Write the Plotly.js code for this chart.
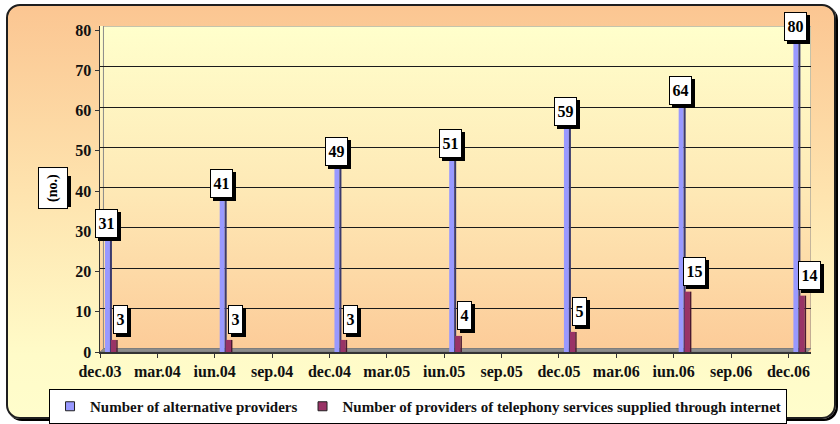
<!DOCTYPE html>
<html>
<head>
<meta charset="utf-8">
<script src="https://cdn.plot.ly/plotly-3.0.1.min.js"></script>
<style>
  html, body { margin: 0; padding: 0; background: #ffffff; }
  #wrap { position: relative; width: 840px; height: 424px; overflow: hidden; }
  #panel {
    position: absolute; left: 6px; top: 4px; width: 830px; height: 415px;
    box-sizing: border-box; border: 2px solid #1e1e1e; border-radius: 14px;
    box-shadow: 2px 2px 0 #000;
    background: linear-gradient(to bottom, #FBC692 0%, #FEE3AE 45%, #FFFBC8 85%, #FFFDCC 100%);
  }
  #wall {
    position: absolute; left: 100px; top: 26px; width: 711px; height: 326px;
    background: linear-gradient(to bottom, #FFFFCC 0%, #FEE9B6 50%, #FCCB98 100%);
  }
  #chart { position: absolute; left: 0; top: 0; width: 840px; height: 424px; }
</style>
</head>
<body>
<div id="wrap">
  <div id="panel"></div>
  <div id="wall"></div>
  <div id="chart"></div>
</div>
<script>
// Quarterly axis labels (one every three months, starting dec.03)
const tickLabels = ['dec.03', 'mar.04', 'iun.04', 'sep.04', 'dec.04', 'mar.05', 'iun.05',
                    'sep.05', 'dec.05', 'mar.06', 'iun.06', 'sep.06', 'dec.06'];
// Reporting periods (half-yearly)
const periods = ['dec.03', 'iun.04', 'dec.04', 'iun.05', 'dec.05', 'iun.06', 'dec.06'];
// Number of alternative providers
const altProviders = [31, 41, 49, 51, 59, 64, 80];
// Number of providers of telephony services supplied through internet
const voipProviders = [3, 3, 3, 4, 5, 15, 14];

const seriesNames = ['Number of alternative providers',
                     'Number of providers of telephony services supplied through internet'];

// month index counted from dec.03 (date axis with a monthly base unit)
const monthIdx = periods.map(p => tickLabels.indexOf(p) * 3);

const FONT = 'Liberation Serif, Times New Roman, serif';
const BLUE = '#9999FF', BLUE_SIDE = '#3A3A6C';
const RED = '#993366', RED_SIDE = '#4A1830';

function bar(y, color, offset, width) {
  return {
    type: 'bar', x: monthIdx, y: y, base: 0,
    offset: offset, width: width,
    marker: { color: color, line: { width: 0 } },
    showlegend: false, hoverinfo: 'skip'
  };
}

const traces = [
  bar(altProviders, BLUE, -0.24, 0.26),
  bar(altProviders, BLUE_SIDE, 0.02, 0.105),
  bar(voipProviders, RED, 0.07, 0.28),
  bar(voipProviders, RED_SIDE, 0.35, 0.075),
  // legend keys
  { type: 'scatter', mode: 'markers', x: [null], y: [null], name: seriesNames[0],
    marker: { symbol: 'square', size: 9, color: BLUE, line: { color: '#222', width: 1 } } },
  { type: 'scatter', mode: 'markers', x: [null], y: [null], name: seriesNames[1],
    marker: { symbol: 'square', size: 9, color: RED, line: { color: '#222', width: 1 } } },
  // carrier for the back-wall gridline axis
  { type: 'scatter', mode: 'markers', x: [null], y: [null], yaxis: 'y2',
    showlegend: false, hoverinfo: 'skip' }
];

// boxed value labels, each with a black drop-shadow box behind it
const annotations = [];
const LABEL_SIZE = 16;
function boxedLabel(x, y, text, xshift, yshift) {
  const common = {
    xref: 'x', yref: 'y', x: x, y: y, showarrow: false,
    xanchor: 'center', yanchor: 'middle', align: 'center', valign: 'middle',
    width: 8 * text.length + 1, height: 23, borderpad: 2, borderwidth: 1
  };
  annotations.push(Object.assign({}, common, {
    text: '&nbsp;', xshift: xshift + 3, yshift: yshift - 3,
    bgcolor: '#000', bordercolor: '#000',
    font: { family: FONT, size: LABEL_SIZE, color: '#000' }
  }));
  annotations.push(Object.assign({}, common, {
    text: text, xshift: xshift, yshift: yshift,
    bgcolor: '#FFFFFF', bordercolor: '#000',
    font: { family: FONT, size: LABEL_SIZE, weight: 'bold', color: '#000' }
  }));
}
monthIdx.forEach((m, i) => boxedLabel(m, altProviders[i], String(altProviders[i]), -3, 3.5));
monthIdx.forEach((m, i) => boxedLabel(m, voipProviders[i], String(voipProviders[i]), 11, 20));

// unit label on the value axis
const unitCommon = {
  xref: 'paper', yref: 'paper', x: -0.0668, y: 0.5015, showarrow: false,
  xanchor: 'center', yanchor: 'middle', borderpad: 0, borderwidth: 1,
  width: 29, height: 29, align: 'center', valign: 'middle'
};
annotations.push(Object.assign({}, unitCommon, {
  text: '&nbsp;', xshift: 3, yshift: -3, bgcolor: '#000', bordercolor: '#000',
  font: { family: FONT, size: 14, color: '#000' }
}));
annotations.push(Object.assign({}, unitCommon, {
  text: '(no.)', textangle: -90, width: null, height: null, borderpad: 6,
  bgcolor: '#FFFFFF', bordercolor: '#000',
  font: { family: FONT, size: 14, weight: 'bold', color: '#000' }
}));

const tickFont = { family: FONT, size: 16, weight: 'bold', color: '#111' };
const xMax = 36.68, depthY = 0.87, depthX = 0.18;

const layout = {
  width: 840, height: 424,
  margin: { l: 100, r: 29, t: 26, b: 72, pad: 0, autoexpand: false },
  paper_bgcolor: 'rgba(0,0,0,0)', plot_bgcolor: 'rgba(0,0,0,0)',
  barmode: 'overlay',
  font: { family: FONT, color: '#000' },
  xaxis: {
    range: [-0.5, xMax], fixedrange: true,
    tickmode: 'array',
    tickvals: tickLabels.map((_, i) => i * 3 - 0.5),
    ticktext: tickLabels,
    ticklabelshift: 9.56,
    ticks: 'outside', ticklen: 4, tickcolor: '#333', tickwidth: 1,
    showline: true, linecolor: '#333', linewidth: 1.5,
    showgrid: false, zeroline: false, tickfont: tickFont
  },
  yaxis: {
    range: [0, 81], fixedrange: true,
    tickmode: 'array', tickvals: [0, 10, 20, 30, 40, 50, 60, 70, 80],
    ticks: 'outside', ticklen: 4, tickcolor: '#333', tickwidth: 1,
    showline: true, linecolor: '#333', linewidth: 1.5,
    showgrid: false, zeroline: false, tickfont: tickFont
  },
  yaxis2: {
    overlaying: 'y', range: [-depthY, 81 - depthY], fixedrange: true,
    tickmode: 'array', tickvals: [10, 20, 30, 40, 50, 60, 70],
    showticklabels: false, ticks: '', showline: false, zeroline: false,
    showgrid: true, gridcolor: '#1a1a1a', gridwidth: 1
  },
  shapes: [
    // back wall outline
    { type: 'rect', xref: 'x', yref: 'y', layer: 'below',
      x0: -0.5 + depthX, x1: xMax, y0: depthY, y1: 81,
      line: { color: '#8a8a8a', width: 1 }, fillcolor: 'rgba(0,0,0,0)' },
    // floor
    { type: 'path', xref: 'x', yref: 'y', layer: 'below',
      path: `M -0.5,0 L 36.5,0 L ${xMax},${depthY} L ${-0.5 + depthX},${depthY} Z`,
      fillcolor: '#8c8c8c', line: { color: '#6e6e6e', width: 0.5 } }
  ],
  annotations: annotations,
  showlegend: true,
  legend: {
    orientation: 'h', x: -0.0717, xanchor: 'left', y: -0.1135, yanchor: 'top',
    bgcolor: '#FFFFFF', bordercolor: '#000', borderwidth: 1,
    font: { family: FONT, size: 15, weight: 'bold', color: '#111' },
    itemclick: false, itemdoubleclick: false, traceorder: 'normal'
  }
};

Plotly.newPlot('chart', traces, layout, { displayModeBar: false, staticPlot: true });
</script>
</body>
</html>
